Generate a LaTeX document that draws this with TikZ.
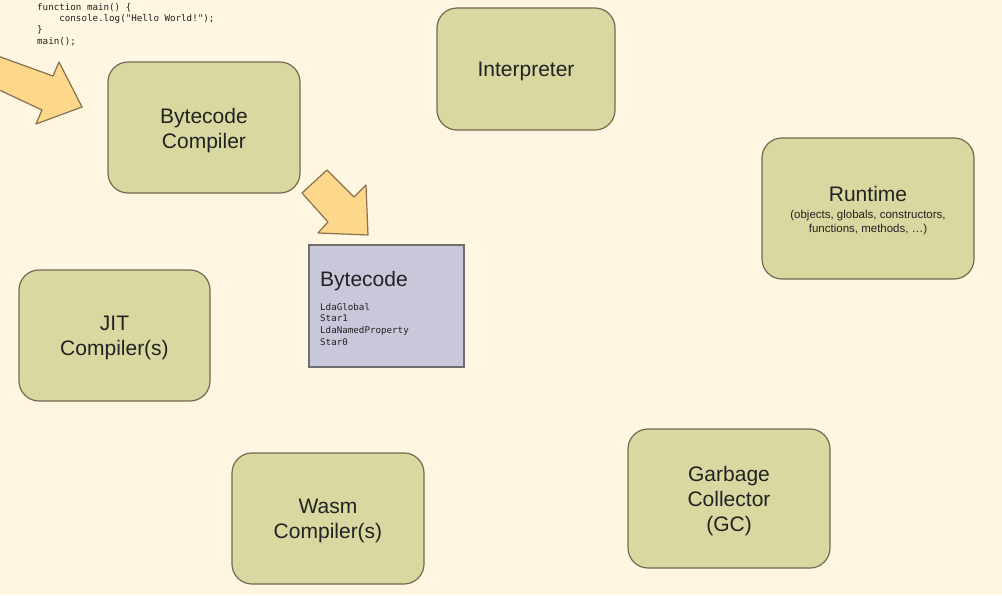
\documentclass[tikz,border=0pt]{standalone}
\usepackage{fontspec}
\setmainfont{Liberation Sans}
\setmonofont{DejaVu Sans Mono}
\definecolor{bgc}{HTML}{FEF6E0}
\definecolor{boxfill}{HTML}{D9D8A0}
\definecolor{boxline}{HTML}{736950}
\definecolor{arrfill}{HTML}{FDD88A}
\definecolor{arrline}{HTML}{86704F}
\definecolor{bcfill}{HTML}{C8C8DA}
\definecolor{bcline}{HTML}{6E6E6E}
\definecolor{txt}{HTML}{222222}
\tikzset{
  comp/.style={draw=boxline, fill=boxfill, line width=1.2pt, rounded corners=20pt,
    inner sep=0pt},
  comptext/.style={inner sep=0pt, align=center, text=txt, font=\fontsize{21}{25}\selectfont},
  bigarrow/.style={draw=arrline, fill=arrfill, line width=1.2pt, line join=round},
  code/.style={inner sep=0pt, anchor=north west, text=txt, font=\ttfamily\fontsize{9.2}{11.3}\selectfont, align=left},
}
\begin{document}
\begin{tikzpicture}[x=1pt,y=-1pt]
\fill[bgc] (0,0) rectangle (1002,595);
\useasboundingbox (0,0) rectangle (1002,595);

% code
\node[code] (src) at (37,3) {function main() \{\\
\ \ \ \ console.log("Hello World!");\\
\}\\
main();};

% arrow 1
\draw[bigarrow] (-5,55) -- (53,76) -- (59,62) -- (82,107) -- (36,124) -- (42,110) -- (-5,88);

% boxes
\node[comp, minimum width=192pt, minimum height=131pt] (bcc) at (204,127.5) {};
\node[comptext] (bcct) at (204,130.5) {Bytecode\\Compiler};
\node[comp, minimum width=178pt, minimum height=122pt] (interp) at (526,69) {};
\node[comptext] (interpt) at (526,71.5) {Interpreter};
\node[comp, minimum width=212pt, minimum height=141pt] (rt) at (868,208.5) {};
\node[comptext] (rtt) at (868,194) {Runtime};
\node[inner sep=0pt, align=center, text=txt, font=\fontsize{11.5}{14}\selectfont] (rts) at (868,222.5) {(objects, globals, constructors,\\functions, methods, \dots)};
\node[comp, minimum width=191pt, minimum height=131pt] (jit) at (114.5,335.5) {};
\node[comptext] (jitt) at (114.5,338) {JIT\\Compiler(s)};
\node[comp, minimum width=192pt, minimum height=131pt] (wasm) at (328,518.5) {};
\node[comptext] (wasmt) at (328,521) {Wasm\\Compiler(s)};
\node[comp, minimum width=202pt, minimum height=139pt] (gc) at (729,498.5) {};
\node[comptext] (gct) at (729,501.5) {Garbage\\Collector\\(GC)};

% arrow 2
\draw[bigarrow] (327,170) -- (354,197) -- (366,185) -- (368,235) -- (318,233) -- (328,222) -- (302,193) -- cycle;

% bytecode box
\node[draw=bcline, fill=bcfill, line width=1.2pt, minimum width=155pt, minimum height=122pt, inner sep=0pt] (bc) at (386.5,306) {};
\node[inner sep=0pt, anchor=west, text=txt, font=\fontsize{21}{25}\selectfont] (bct) at (320,281) {Bytecode};
\node[code, font=\ttfamily\fontsize{9.2}{11.7}\selectfont] (bcode) at (320,303) {LdaGlobal\\Star1\\LdaNamedProperty\\Star0};
\end{tikzpicture}
\end{document}
